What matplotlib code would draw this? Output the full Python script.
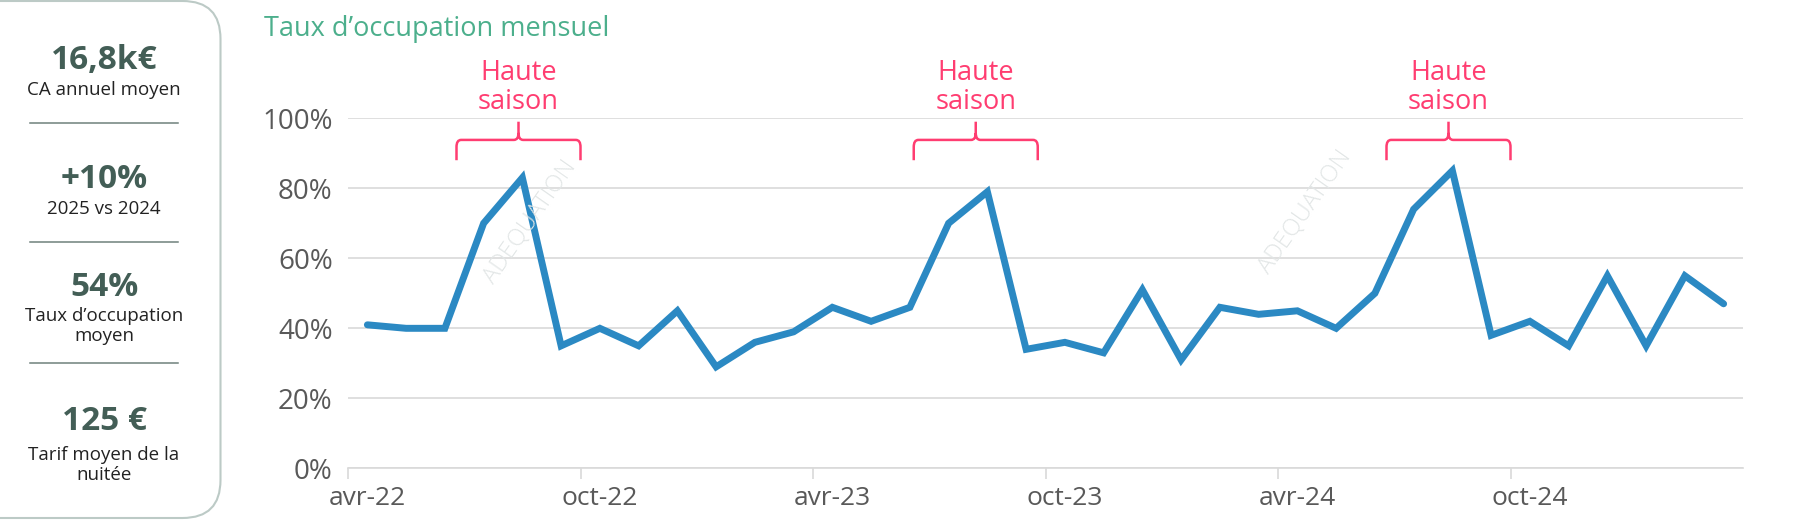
import numpy as np
import matplotlib.pyplot as plt
from matplotlib.path import Path
from matplotlib.patches import PathPatch, FancyBboxPatch
from matplotlib.transforms import IdentityTransform

# Monthly occupancy (avr-22 .. mar-25), in %
months = ["avr-22", "mai-22", "juin-22", "juil-22", "août-22", "sept-22",
          "oct-22", "nov-22", "déc-22", "janv-23", "févr-23", "mars-23",
          "avr-23", "mai-23", "juin-23", "juil-23", "août-23", "sept-23",
          "oct-23", "nov-23", "déc-23", "janv-24", "févr-24", "mars-24",
          "avr-24", "mai-24", "juin-24", "juil-24", "août-24", "sept-24",
          "oct-24", "nov-24", "déc-24", "janv-25", "févr-25", "mars-25"]
occupation = [41, 40, 40, 70, 83, 35, 40, 35, 45, 29, 36, 39,
              46, 42, 46, 70, 79, 34, 36, 33, 51, 31, 46, 44,
              45, 40, 50, 74, 85, 38, 42, 35, 55, 35, 55, 47]

# high season brackets (start/end in month index units)
season_start = [2.3, 14.1, 26.3]
season_end = [5.5, 17.3, 29.5]
season_label = "Haute\nsaison"

# KPI panel
kpi_values = ["16,8k€", "+10%", "54%", "125 €"]
kpi_labels = ["CA annuel moyen", "2025 vs 2024", "Taux d\u2019occupation\nmoyen",
              "Tarif moyen de la\nnuitée"]

W, H = 1800, 524
FONT = "Open Sans"
plt.rcParams['font.family'] = [FONT, 'DejaVu Sans']

fig = plt.figure(figsize=(W / 100, H / 100), dpi=100)


def fx(px):
    return px / W


def fy(py):
    return 1 - py / H


ax = fig.add_axes([fx(348), fy(468.4), fx(1743 - 348), (468.4 - 118.2) / H])

x = np.arange(len(occupation))
ax.plot(x, occupation, color="#2b89c3", linewidth=5, solid_joinstyle="miter",
        solid_capstyle="round", zorder=3)

ax.set_xlim(-0.5, len(months) - 0.5)
ax.set_ylim(0, 100)
ax.set_yticks(np.arange(0, 101, 20))
ax.set_yticklabels([f"{v}%" for v in range(0, 101, 20)])
ax.grid(axis="y", color="#d9d9d9", linewidth=1.2)
ax.set_axisbelow(True)

# tick marks between categories, labels under first month of each half-year
ax.set_xticks(np.arange(-0.5, len(months) - 1, 6))
ax.set_xticklabels([])
ax.set_xticks(np.arange(0, len(months), 6), minor=True)
ax.set_xticklabels([months[i] for i in range(0, len(months), 6)], minor=True)
ax.tick_params(axis="x", which="major", length=8, color="#d9d9d9", width=1.2)
ax.tick_params(axis="x", which="minor", length=0, pad=13, labelsize=19,
               labelcolor="#595959")
ax.tick_params(axis="y", length=0, pad=11, labelsize=20, labelcolor="#595959")

for s in ["top", "right", "left"]:
    ax.spines[s].set_visible(False)
ax.spines["bottom"].set_color("#d9d9d9")
ax.spines["bottom"].set_linewidth(1.2)

pink = "#ff3d71"


def brace(x0, x1, yb=88, yh=93.8, yt=99, dx=0.12, dy=2.0):
    xc = (x0 + x1) / 2
    verts = [(x0, yb), (x0, yh - dy), (x0, yh), (x0 + dx, yh), (xc - dx, yh),
             (xc, yh), (xc, yh + dy), (xc, yt),
             (xc, yh + dy), (xc, yh), (xc + dx, yh), (x1 - dx, yh),
             (x1, yh), (x1, yh - dy), (x1, yb)]
    codes = [Path.MOVETO, Path.LINETO, Path.CURVE3, Path.CURVE3, Path.LINETO,
             Path.CURVE3, Path.CURVE3, Path.LINETO,
             Path.MOVETO, Path.CURVE3, Path.CURVE3, Path.LINETO,
             Path.CURVE3, Path.CURVE3, Path.LINETO]
    p = PathPatch(Path(verts, codes), facecolor="none", edgecolor=pink,
                  linewidth=1.8, clip_on=False)
    ax.add_patch(p)
    ax.text(xc, 108.8, season_label, ha="center", va="center", color=pink,
            fontsize=19.5, linespacing=1.05, clip_on=False)


for a, b in zip(season_start, season_end):
    brace(a, b)

# faint watermark
for wx, wy in [(530, 222), (1305, 212)]:
    fig.text(fx(wx), fy(wy), "ADEQUATION", rotation=55, ha="center", va="center",
             color="#e2e6e6", fontsize=17, fontweight="light", zorder=4)

fig.text(fx(264), fy(29), "Taux d\u2019occupation mensuel", ha="left", va="center",
         color="#4caf8c", fontsize=19.5)

# KPI panel with rounded border
box = FancyBboxPatch((-60, H - 518), 220.5 + 60, 518 - 1,
                     boxstyle="round,pad=0,rounding_size=38",
                     transform=IdentityTransform(), facecolor="none",
                     edgecolor="#bccac6", linewidth=1.5)
fig.patches.append(box)

value_y = [61, 180, 287, 422]
label_y = [90, 209, 326, 465]
sep_y = [123, 242, 363]
cx = 104
for v, l, vy, ly in zip(kpi_values, kpi_labels, value_y, label_y):
    fig.text(fx(cx), fy(vy), v, ha="center", va="center", color="#435e56",
             fontsize=24, fontweight="bold")
    fig.text(fx(cx), fy(ly), l, ha="center", va="center", color="#222222",
             fontsize=13.5, linespacing=1.1)
for sy in sep_y:
    fig.add_artist(plt.Line2D([fx(30), fx(178)], [fy(sy), fy(sy)],
                              color="#6f817c", linewidth=1.1))

fig.savefig("out.png", dpi=100)
